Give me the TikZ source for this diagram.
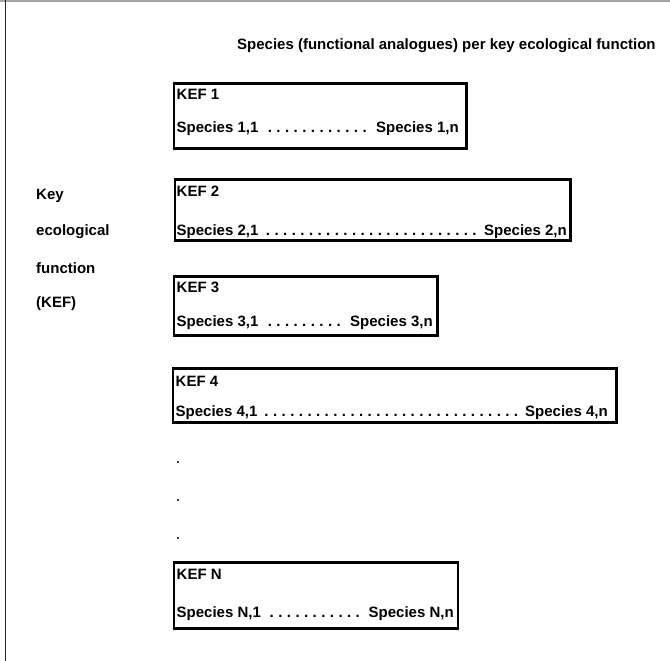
\documentclass[tikz,border=0pt]{standalone}
\usepackage{fontspec}
\setmainfont{Liberation Sans}
\begin{document}
\begin{tikzpicture}[x=1pt,y=-1pt,
  every node/.style={font=\fontsize{15}{17}\selectfont\bfseries, inner sep=0pt},
  kefbox/.style={draw=black, line width=2.8pt, rectangle, anchor=north west, inner sep=0pt},
  keflabel/.style={anchor=west},
  sidelabel/.style={anchor=west},
  gapdot/.style={circle, fill=black, minimum size=2.2pt, inner sep=0pt}]
\useasboundingbox (0,0) rectangle (670,661);
% frame
\draw[gray!70, line width=2pt] (0,1.2) -- (670,1.2);
\draw[black!85, line width=1.6pt] (5.6,0.5) -- (5.6,661);
% species row: first and last species joined by dot leaders
\newcommand\speciesrow[2]{\hbox to #1{Species #2,1\ \cleaders\hbox to 8.6pt{\hss.\hss}\hfill\ Species #2,n}}
% header and side labels
\node[anchor=west] (head) at (237,46) {Species (functional analogues) per key ecological function};
\node[sidelabel] (l1) at (36,196) {Key};
\node[sidelabel] (l2) at (36,232) {ecological};
\node[sidelabel] (l3) at (36,268) {function};
\node[sidelabel] (l4) at (36,304) {(KEF)};
% KEF boxes
\node[kefbox, minimum width=292.5pt, minimum height=65pt] (k1) at (172.5,82) {};
\node[kefbox, minimum width=395.5pt, minimum height=61pt] (k2) at (173.5,178) {};
\node[kefbox, minimum width=263.5pt, minimum height=59pt] (k3) at (172.5,275) {};
\node[kefbox, minimum width=443.5pt, minimum height=54pt] (k4) at (171.5,367) {};
\node[kefbox, minimum width=284pt, minimum height=66pt] (kN) at (172.5,561) {};
% box contents
\node[keflabel] (k1t) at ([shift={(4,12)}]k1.north west) {KEF 1};
\node[anchor=west] (k1s) at ([shift={(4,-21)}]k1.south west) {\speciesrow{282pt}{1}};
\node[keflabel] (k2t) at ([shift={(3,13)}]k2.north west) {KEF 2};
\node[anchor=west] (k2s) at ([shift={(3,-10)}]k2.south west) {\speciesrow{390pt}{2}};
\node[keflabel] (k3t) at ([shift={(4,12)}]k3.north west) {KEF 3};
\node[anchor=west] (k3s) at ([shift={(4,-14)}]k3.south west) {\speciesrow{256pt}{3}};
\node[keflabel] (k4t) at ([shift={(4,14)}]k4.north west) {KEF 4};
\node[anchor=west] (k4s) at ([shift={(4,-11)}]k4.south west) {\speciesrow{432pt}{4}};
\node[keflabel] (kNt) at ([shift={(4,13)}]kN.north west) {KEF N};
\node[anchor=west] (kNs) at ([shift={(4,-16)}]kN.south west) {\speciesrow{277pt}{N}};
% ellipsis between KEF 4 and KEF N
\node[gapdot] (d1) at (178,462) {};
\node[gapdot] (d2) at (178,500) {};
\node[gapdot] (d3) at (178,538) {};
\end{tikzpicture}
\end{document}
